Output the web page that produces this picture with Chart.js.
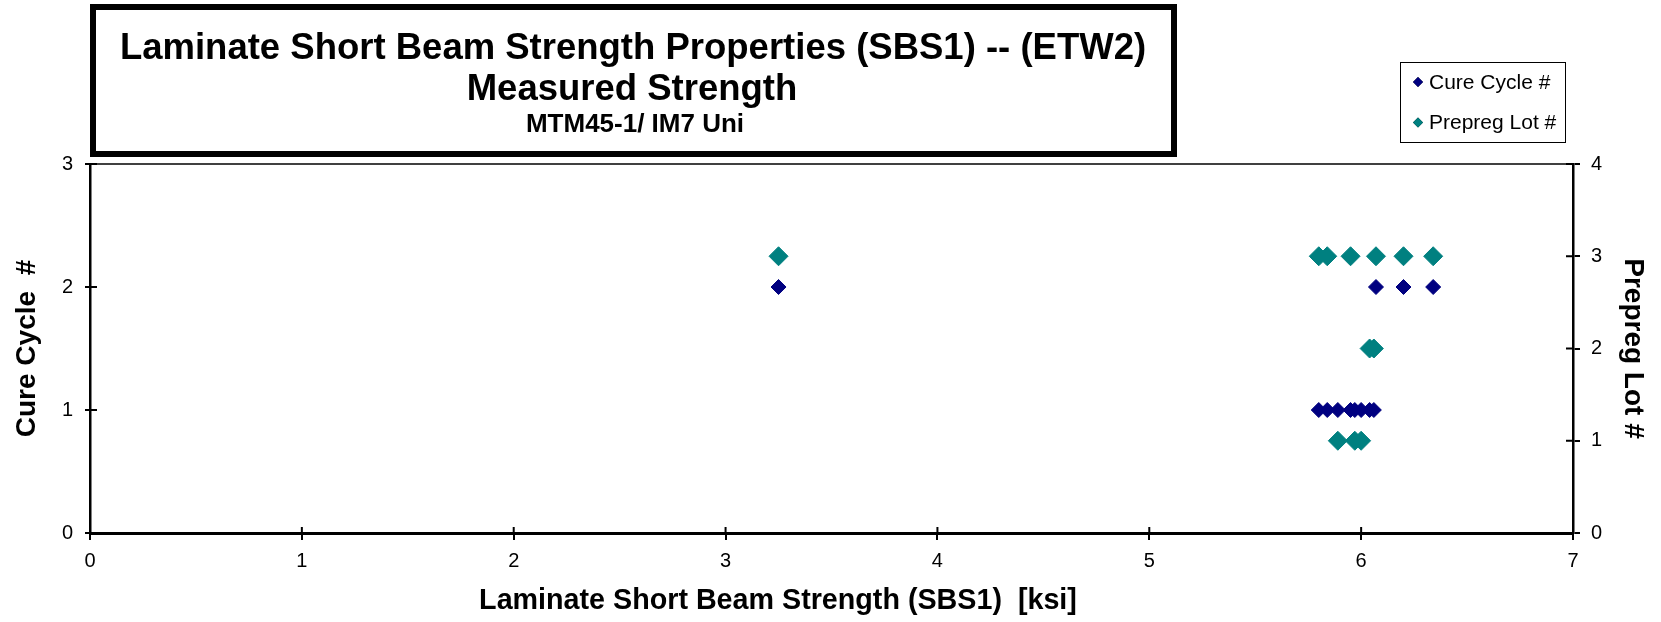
<!DOCTYPE html>
<html>
<head>
<meta charset="utf-8">
<script src="https://cdn.jsdelivr.net/npm/chart.js@4.4.1/dist/chart.umd.min.js"></script>
<style>
  body { margin: 0; background: #fff; }
  #wrap { width: 1661px; height: 622px; }
</style>
</head>
<body>
<div id="wrap"><canvas id="sbsChart" width="1661" height="622"></canvas></div>
<script>
// Title text
const titleLines = [
    "Laminate Short Beam Strength Properties (SBS1) -- (ETW2)",
    "Measured Strength",
    "MTM45-1/ IM7 Uni"
];
const xTitle = "Laminate Short Beam Strength (SBS1)  [ksi]";

// Cure cycle series (left axis)
const cureStrength = [3.25, 6.07, 6.20, 6.34, 5.80, 5.84, 5.89, 5.95, 5.97, 6.00, 6.04, 6.06];
const cureCycle = [2, 2, 2, 2, 1, 1, 1, 1, 1, 1, 1, 1];

// Prepreg lot series (right axis)
const lotStrength = [3.25, 5.80, 5.84, 5.95, 6.07, 6.20, 6.34, 6.04, 6.06, 5.89, 5.97, 6.00];
const prepregLot = [3, 3, 3, 3, 3, 3, 3, 2, 2, 1, 1, 1];

const FONT = '"Liberation Sans", Arial, sans-serif';

document.addEventListener("DOMContentLoaded", function () {
    const toPoints = (xs, ys) => xs.map((x, i) => ({ x: x, y: ys[i] }));

    Chart.defaults.font.family = FONT;
    Chart.defaults.font.size = 20;
    Chart.defaults.color = "#000";

    // extra drawing: title box, legend, plot top edge, inner tick halves, x title
    const decorations = {
        id: "decorations",
        afterDraw(chart) {
            const ctx = chart.ctx;
            const a = chart.chartArea;
            ctx.save();
            ctx.strokeStyle = "#000";
            ctx.fillStyle = "#000";

            // top edge of plot area
            ctx.lineWidth = 1.5;
            ctx.beginPath();
            ctx.moveTo(a.left, a.top);
            ctx.lineTo(a.right, a.top);
            ctx.stroke();

            // inner halves of tick marks
            ctx.lineWidth = 2;
            ctx.beginPath();
            chart.scales.x.ticks.forEach(t => {
                const px = chart.scales.x.getPixelForValue(t.value);
                ctx.moveTo(px, a.bottom);
                ctx.lineTo(px, a.bottom - 6);
            });
            chart.scales.y.ticks.forEach(t => {
                const py = chart.scales.y.getPixelForValue(t.value);
                ctx.moveTo(a.left, py);
                ctx.lineTo(a.left + 7, py);
            });
            chart.scales.y2.ticks.forEach(t => {
                const py = chart.scales.y2.getPixelForValue(t.value);
                ctx.moveTo(a.right, py);
                ctx.lineTo(a.right - 7, py);
            });
            ctx.stroke();

            // x axis title
            ctx.textAlign = "center";
            ctx.textBaseline = "alphabetic";
            ctx.font = "bold 28.7px " + FONT;
            ctx.fillText(xTitle, 778, 609);

            // title box
            ctx.lineWidth = 6;
            ctx.strokeRect(93, 7, 1081, 147);
            ctx.font = "bold 36.5px " + FONT;
            ctx.fillText(titleLines[0], 633, 59);
            ctx.font = "bold 36.5px " + FONT;
            ctx.fillText(titleLines[1], 632, 100);
            ctx.font = "bold 26px " + FONT;
            ctx.fillText(titleLines[2], 635, 132);

            // legend
            ctx.lineWidth = 1;
            ctx.strokeRect(1400.5, 62.5, 165, 80);
            ctx.font = "21px " + FONT;
            ctx.textAlign = "left";
            ctx.textBaseline = "middle";
            chart.data.datasets.forEach((ds, i) => {
                const y = 82 + i * 40.5;
                Chart.helpers.drawPoint(ctx, {
                    pointStyle: "rectRot", radius: 5, borderWidth: 0, rotation: 0
                }, 1418, y);
                ctx.fillStyle = ds.backgroundColor;
                ctx.fill();
                ctx.fillStyle = "#000";
                ctx.fillText(ds.label, 1429, y + 1);
            });
            ctx.restore();
        }
    };

    const titleFont = () => ({ family: FONT, size: 28, weight: "bold", lineHeight: 1.2 });
    const tickFont = () => ({ family: FONT, size: 20, lineHeight: 1.2 });

    new Chart(document.getElementById("sbsChart"), {
        type: "scatter",
        data: {
            datasets: [{
                label: "Cure Cycle #",
                data: toPoints(cureStrength, cureCycle),
                yAxisID: "y",
                pointStyle: "rectRot",
                pointRadius: 7.5,
                pointHoverRadius: 7.5,
                borderWidth: 1,
                backgroundColor: "#000080",
                borderColor: "#000080"
            }, {
                label: "Prepreg Lot #",
                data: toPoints(lotStrength, prepregLot),
                yAxisID: "y2",
                pointStyle: "rectRot",
                pointRadius: 9.5,
                pointHoverRadius: 9.5,
                borderWidth: 1,
                backgroundColor: "#008080",
                borderColor: "#008080"
            }]
        },
        options: {
            responsive: false,
            animation: false,
            layout: { padding: { top: 164, left: 0, right: 0, bottom: 0 } },
            plugins: {
                legend: { display: false },
                tooltip: { enabled: false }
            },
            scales: {
                x: {
                    type: "linear",
                    position: "bottom",
                    min: 0, max: 7,
                    ticks: { stepSize: 1, color: "#000", padding: 9, font: tickFont },
                    grid: { drawOnChartArea: false, tickLength: 7, color: "#000", lineWidth: 2 },
                    border: { color: "#000", width: 3 },
                    afterFit(scale) { scale.height = 89; }
                },
                y: {
                    type: "linear",
                    position: "left",
                    min: 0, max: 3,
                    ticks: { stepSize: 1, color: "#000", padding: 12, font: tickFont },
                    grid: { drawOnChartArea: false, tickLength: 5, color: "#000", lineWidth: 2 },
                    border: { color: "#000", width: 2.5 },
                    title: {
                        display: true, text: "Cure Cycle  #", color: "#000",
                        font: titleFont(), padding: { top: 10, bottom: 0 }
                    },
                    afterFit(scale) { scale.width = 90; }
                },
                y2: {
                    type: "linear",
                    position: "right",
                    min: 0, max: 4,
                    ticks: { stepSize: 1, color: "#000", padding: 11, font: tickFont },
                    grid: { drawOnChartArea: false, tickLength: 7, color: "#000", lineWidth: 2 },
                    border: { color: "#000", width: 2.5 },
                    title: {
                        display: true, text: "Prepreg Lot #", color: "#000",
                        font: titleFont(), padding: { top: 11, bottom: 0 }
                    },
                    afterFit(scale) { scale.width = 88; }
                }
            }
        },
        plugins: [decorations]
    });
});
</script>
</body>
</html>
